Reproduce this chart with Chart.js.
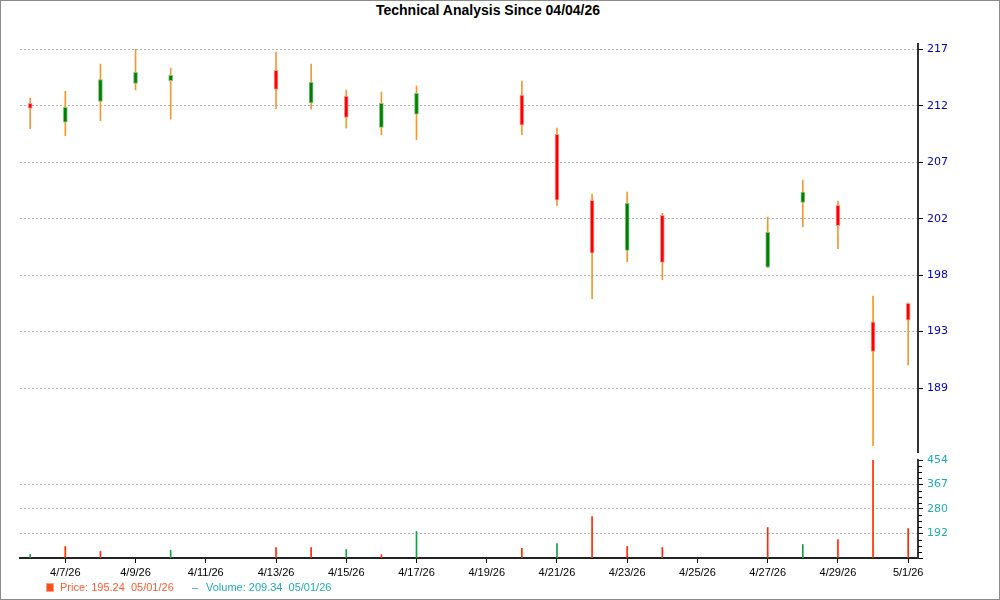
<!DOCTYPE html>
<html>
<head>
<meta charset="utf-8">
<title>Technical Analysis Since 04/04/26</title>
<script src="https://cdn.jsdelivr.net/npm/chart.js@4.4.1/dist/chart.umd.min.js"></script>
<style>
  html, body { margin: 0; padding: 0; background: #fff; }
  #wrap { position: relative; width: 1000px; height: 600px; overflow: hidden; font-family: 'Liberation Sans', Arial, sans-serif; }
  #frame { position: absolute; left: 0; top: 0; width: 998px; height: 598px; border: 1px solid #8c8c8c; pointer-events: none; }
  #title { position: absolute; left: 0; top: 2px; width: 976px; text-align: center; font-weight: bold; font-size: 14px; line-height: 16px; color: #000; }
  #priceBox { position: absolute; left: 0; top: 0; width: 1000px; height: 466px; }
  #volBox { position: absolute; left: 0; top: 445px; width: 1000px; height: 155px; }
  .lg { position: absolute; top: 580px; font-size: 11px; line-height: 14px; white-space: pre; }
  #lgIcon { position: absolute; left: 46px; top: 583px; width: 6px; height: 7px; background: #ff4a1c; border: 1px solid #ffa080; box-sizing: content-box; }
</style>
</head>
<body>
<div id="wrap">
  <div id="title">Technical Analysis Since 04/04/26</div>
  <div id="priceBox"><canvas id="price"></canvas></div>
  <div id="volBox"><canvas id="vol"></canvas></div>
  <div id="lgIcon"></div>
  <div class="lg" style="left:60px;color:#ff5a32">Price: 195.24  05/01/26</div>
  <div class="lg" style="left:192px;color:#20aab5">–</div>
  <div class="lg" style="left:206px;color:#20aab5">Volume: 209.34  05/01/26</div>
  <div id="frame"></div>
</div>
<script>
// trading days
const dates = ['4/6/26', '4/7/26', '4/8/26', '4/9/26', '4/10/26', '4/13/26', '4/14/26', '4/15/26', '4/16/26', '4/17/26',
  '4/20/26', '4/21/26', '4/22/26', '4/23/26', '4/24/26', '4/27/26', '4/28/26', '4/29/26', '4/30/26', '5/1/26'];
const open = [212.54, 210.97, 212.70, 214.19, 214.40, 215.26, 212.56, 213.11, 210.55, 211.63,
  213.22, 209.97, 204.52, 200.38, 203.28, 198.98, 204.35, 204.10, 194.48, 196.00];
const high = [212.97, 213.53, 215.78, 217.00, 215.45, 216.78, 215.78, 213.64, 213.47, 213.97,
  214.38, 210.49, 205.04, 205.20, 203.44, 203.14, 206.19, 204.46, 196.61, 196.05];
const low = [210.44, 209.86, 211.10, 213.64, 211.24, 212.09, 212.06, 210.49, 209.94, 209.53,
  209.94, 204.07, 196.38, 199.44, 197.95, 198.95, 202.33, 200.52, 184.23, 190.90];
const close = [212.12, 212.21, 214.49, 215.10, 214.85, 213.69, 214.27, 211.38, 212.54, 213.36,
  210.72, 204.52, 200.14, 204.27, 199.39, 201.87, 205.20, 202.42, 192.03, 194.60];
const volume = [117.3, 145.8, 128.0, null, 131.6, 142.2, 141.5, 135.1, 116.3, 199.1,
  138.7, 156.5, 252.4, 145.8, 142.2, 213.3, 152.9, 170.7, 454, 209.34];
const volumeUp = [true, false, false, null, true, false, false, true, false, true,
  false, true, false, false, false, false, true, false, false, false];

const priceTickLabels = ['217', '212', '207', '202', '198', '193', '189'];
const volTickLabels = ['454', '367', '280', '192'];
const dateTickLabels = ['4/7/26', '4/9/26', '4/11/26', '4/13/26', '4/15/26', '4/17/26', '4/19/26',
  '4/21/26', '4/23/26', '4/25/26', '4/27/26', '4/29/26', '5/1/26'];

function dayNum(s) {
  const [m, d, y] = s.split('/').map(Number);
  return Date.UTC(2000 + y, m - 1, d) / 86400000;
}
const day0 = dayNum(dates[0]);
const xs = dates.map(s => dayNum(s) - day0);
const xMin = xs[0] - 0.29, xMax = xs[xs.length - 1] + 0.28;

// price ticks evenly spaced between first and last label
const pTop = Number(priceTickLabels[0]), pBot = Number(priceTickLabels[priceTickLabels.length - 1]);
const priceTicks = priceTickLabels.map((l, i) => pTop - i * (pTop - pBot) / (priceTickLabels.length - 1));

// volume ticks: majors + baseline + 3 minors per interval
const volMajors = volTickLabels.map(Number);
const volStep = (volMajors[0] - volMajors[volMajors.length - 1]) / (volMajors.length - 1);
const volBase = volMajors[volMajors.length - 1] - volStep;
const volTicks = [];
[...volMajors, volBase].forEach((v, i, arr) => {
  volTicks.push({ value: v, label: volTickLabels[i] || '', grid: i > 0 && i < volMajors.length });
  if (i < arr.length - 1) {
    for (let k = 1; k < 4; k++) volTicks.push({ value: v - k * (v - arr[i + 1]) / 4, label: '', minor: true });
  }
});

const RED = '#ff0000', RED_EDGE = '#ff9a9a', GREEN = '#008000', GREEN_EDGE = '#80c080';
const up = i => close[i] >= open[i];

const xScale = extra => Object.assign({
  type: 'linear', min: xMin, max: xMax, offset: false, grid: { offset: false }
}, extra);

new Chart(document.getElementById('price'), {
  type: 'bar',
  data: {
    datasets: [
      {
        data: xs.map((x, i) => ({ x, y: [open[i], close[i]] })),
        barThickness: 4,
        grouped: false,
        borderSkipped: false,
        borderWidth: 1,
        backgroundColor: c => up(c.dataIndex) ? GREEN : RED,
        borderColor: c => up(c.dataIndex) ? GREEN_EDGE : RED_EDGE,
      },
      {
        data: xs.map((x, i) => ({ x, y: [low[i], high[i]] })),
        barThickness: 1,
        grouped: false,
        backgroundColor: '#f29a2e',
      },
    ],
  },
  options: {
    responsive: true,
    maintainAspectRatio: false,
    animation: false,
    layout: { padding: { top: 44, bottom: 14, left: 20, right: 0 } },
    plugins: { legend: { display: false }, tooltip: { enabled: false } },
    scales: {
      x: xScale({ display: false }),
      y: {
        position: 'right',
        min: 183.71,
        max: 217.44,
        afterFit: s => { s.width = 82; },
        afterBuildTicks: s => { s.ticks = priceTicks.map(v => ({ value: v })); },
        ticks: {
          autoSkip: false,
          padding: 4,
          color: '#0000cc',
          font: { family: 'DejaVu Sans', size: 11 },
          callback: (v, i) => priceTickLabels[i],
        },
        grid: { color: '#b4b4b4', tickColor: '#000', tickLength: 5, tickBorderDash: [] },
        border: { color: '#333', width: 2, dash: [2, 2] },
      },
    },
  },
});

const minorTicks = {
  id: 'minorTicks',
  afterDraw(chart) {
    const y = chart.scales.y, ctx = chart.ctx;
    ctx.save();
    ctx.strokeStyle = '#000';
    ctx.lineWidth = 1;
    y.ticks.forEach(t => {
      if (!t.minor) return;
      const py = Math.round(y.getPixelForValue(t.value)) + 0.5;
      ctx.beginPath();
      ctx.moveTo(y.left, py);
      ctx.lineTo(y.left + 4, py);
      ctx.stroke();
    });
    ctx.restore();
  },
};

new Chart(document.getElementById('vol'), {
  type: 'bar',
  plugins: [minorTicks],
  data: {
    datasets: [{
      data: xs.map((x, i) => ({ x, y: volume[i] })),
      barThickness: 1,
      grouped: false,
      backgroundColor: c => volumeUp[c.dataIndex] ? '#15a045' : '#ff2a00',
    }],
  },
  options: {
    responsive: true,
    maintainAspectRatio: false,
    animation: false,
    layout: { padding: { top: 15, bottom: 0, left: 20, right: 0 } },
    plugins: { legend: { display: false }, tooltip: { enabled: false } },
    scales: {
      x: xScale({
        afterFit: s => { s.height = 42; },
        afterBuildTicks: s => { s.ticks = dateTickLabels.map(l => ({ value: dayNum(l) - day0 })); },
        ticks: {
          autoSkip: false,
          maxRotation: 0,
          padding: 3,
          color: '#000',
          font: { family: 'Liberation Sans', size: 11 },
          callback: (v, i) => dateTickLabels[i],
        },
        grid: { offset: false, drawOnChartArea: false, tickLength: 5, tickColor: '#000', color: '#000' },
        border: { color: '#222', width: 2 },
      }),
      y: {
        position: 'right',
        min: volBase,
        max: volMajors[0],
        afterFit: s => { s.width = 82; },
        afterBuildTicks: s => { s.ticks = volTicks.map(t => ({ value: t.value, minor: t.minor })); },
        ticks: {
          autoSkip: false,
          padding: 4,
          color: '#20aab5',
          font: { family: 'DejaVu Sans', size: 11 },
          callback: (v, i) => volTicks[i].label,
        },
        grid: {
          color: c => (volTicks[c.index] && volTicks[c.index].grid) ? '#b4b4b4' : 'rgba(0,0,0,0)',
          tickColor: c => (volTicks[c.index] && !volTicks[c.index].minor) ? '#000' : 'rgba(0,0,0,0)',
          tickLength: 5,
          tickBorderDash: [],
        },
        border: { color: '#333', width: 2, dash: [2, 2] },
      },
    },
  },
});
</script>
</body>
</html>
